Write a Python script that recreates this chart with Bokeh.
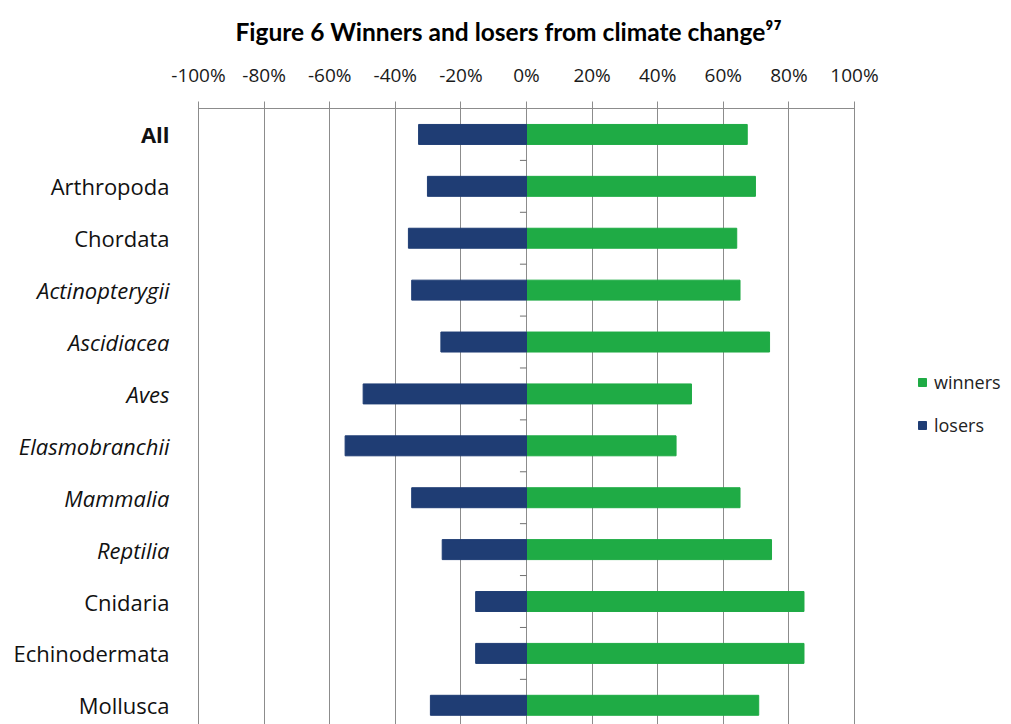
from bokeh.plotting import figure
from bokeh.models import (ColumnDataSource, Range1d, FixedTicker, NumeralTickFormatter,
                          LabelSet, Legend, LegendItem)
from bokeh.core.properties import value
from bokeh.embed import file_html
from bokeh.resources import INLINE

# ---- data ----
categories = ["All", "Arthropoda", "Chordata", "Actinopterygii", "Ascidiacea", "Aves",
              "Elasmobranchii", "Mammalia", "Reptilia", "Cnidaria", "Echinodermata", "Mollusca"]
winners = [0.673, 0.698, 0.641, 0.651, 0.741, 0.503, 0.456, 0.651, 0.747, 0.846, 0.846, 0.708]
losers = [-0.329, -0.302, -0.360, -0.350, -0.261, -0.498, -0.553, -0.350, -0.257, -0.155, -0.155, -0.293]
label_styles = ["bold", "normal", "normal", "italic", "italic", "italic",
                "italic", "italic", "italic", "normal", "normal", "normal"]
x_ticks = [-1.0, -0.8, -0.6, -0.4, -0.2, 0.0, 0.2, 0.4, 0.6, 0.8, 1.0]
series_names = ["winners", "losers"]
TITLE = "Figure 6 Winners and losers from climate change\u2079\u2077"

GREEN = "#1fab45"
NAVY = "#1f3d74"
GRID = "#8c8c8c"

W, H = 1011, 724
PLOT_L, PLOT_R = 198, 854          # pixel positions of -100% and +100%
px_per_unit = (PLOT_R - PLOT_L) / 2.0
x_lo = -1.0 - PLOT_L / px_per_unit
x_hi = 1.0 + (W - PLOT_R) / px_per_unit

ypos = list(range(len(categories)))
src = ColumnDataSource(dict(cat=categories, y=ypos, win=winners, lose=losers))

p = figure(width=W, height=H, min_border_left=0, min_border_right=0,
           min_border_top=108, min_border_bottom=0,
           x_range=Range1d(x_lo, x_hi), y_range=Range1d(11.37, -0.5),
           x_axis_location="above", y_axis_location=None,
           output_backend="svg", toolbar_location=None, tools="")

p.background_fill_color = "white"
p.border_fill_color = "white"
p.outline_line_color = None

# title
p.title.text = TITLE
p.title.text_font = "Lato"
p.title.text_font_style = "bold"
p.title.text_font_size = "24.5px"
p.title.text_color = "#000000"
p.title.align = "left"
p.title.offset = 235
p.title.standoff = 26

# grid
p.xgrid.ticker = FixedTicker(ticks=x_ticks)
p.xgrid.bounds = (-1.0, 1.0)
p.xgrid.grid_line_color = GRID
p.xgrid.grid_line_width = 1
p.ygrid.visible = False

# top axis
ax = p.xaxis[0]
ax.ticker = FixedTicker(ticks=x_ticks)
ax.bounds = (-1.0, 1.0)
ax.formatter = NumeralTickFormatter(format="0%")
ax.axis_line_color = GRID
ax.major_tick_line_color = GRID
ax.major_tick_out = 7
ax.major_tick_in = 3
ax.minor_tick_line_color = None
ax.major_label_standoff = 14
ax.major_label_text_font = "Open Sans"
ax.major_label_text_font_size = "19px"
ax.major_label_text_color = "#1a1a1a"

# category boundary ticks on the zero line
n = len(categories)
bounds = [i + 0.5 for i in range(n - 1)]
p.segment(x0=[-0.02] * len(bounds), x1=[0.0] * len(bounds), y0=bounds, y1=bounds,
          line_color="#707070", line_width=1)

# bars
r_win = p.hbar(y="y", left=0, right="win", height=0.385, source=src,
               fill_color=GREEN, line_color=GREEN)
r_lose = p.hbar(y="y", left="lose", right=0, height=0.385, source=src,
                fill_color=NAVY, line_color=NAVY)

# category labels with per-label font style
for st in ["normal", "italic", "bold"]:
    idx = [i for i, s in enumerate(label_styles) if s == st]
    sub = ColumnDataSource(dict(cat=[categories[i] for i in idx], y=[ypos[i] for i in idx],
                                x=[x_ticks[0]] * len(idx)))
    p.add_layout(LabelSet(x="x", y="y", text="cat", source=sub, x_offset=-29,
                          text_align="right", text_baseline="middle",
                          text_font=value("Open Sans"), text_font_style=value(st),
                          text_font_size=value("22px"), text_color="#111111"))

# legend
legend = Legend(items=[LegendItem(label=series_names[0], renderers=[r_win]),
                       LegendItem(label=series_names[1], renderers=[r_lose])],
                location=(917, 287), glyph_width=10, glyph_height=10,
                label_height=20, spacing=19, padding=0, margin=0,
                border_line_alpha=0, background_fill_alpha=0,
                label_text_font="Open Sans", label_text_font_size="18px",
                label_standoff=7, label_text_color="#222222")
p.add_layout(legend)

open("out.html", "w").write(file_html(p, INLINE))
